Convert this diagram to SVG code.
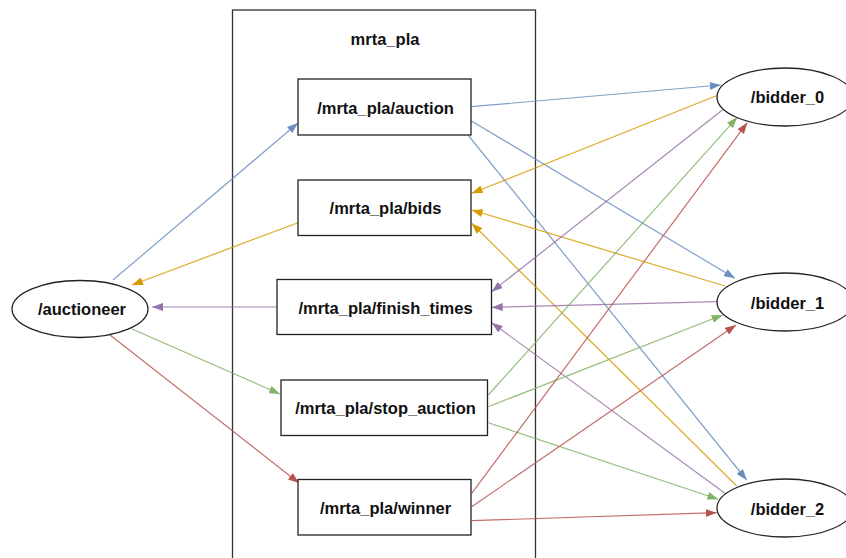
<svg xmlns="http://www.w3.org/2000/svg" width="846" height="558" viewBox="0 0 846 558">
  <style>
    .bg { fill: #ffffff; }
    .cluster { fill: none; stroke: #333333; stroke-width: 1.3; }
    .topic { fill: #ffffff; stroke: #222222; stroke-width: 1.3; }
    .node { fill: #ffffff; stroke: #222222; stroke-width: 1.3; }
    .label { font-family: "Liberation Sans", Arial, sans-serif; font-weight: bold; font-size: 16.5px; fill: #111111; text-anchor: middle; }
    .edge { fill: none; stroke-width: 1.2; stroke-opacity: 0.85; }
    .blue { stroke: #6c8ebf; marker-end: url(#arrow-blue); }
    .yellow { stroke: #d79b00; marker-end: url(#arrow-yellow); }
    .purple { stroke: #9673a6; marker-end: url(#arrow-purple); }
    .green { stroke: #82b366; marker-end: url(#arrow-green); }
    .red { stroke: #b85450; marker-end: url(#arrow-red); }
  </style>
  <defs>
    <marker id="arrow-blue" viewBox="0 0 11 8" refX="11" refY="4" markerWidth="11" markerHeight="8" markerUnits="userSpaceOnUse" orient="auto">
      <path d="M0,0 L11,4 L0,8 z" fill="#6c8ebf"/>
    </marker>
    <marker id="arrow-yellow" viewBox="0 0 11 8" refX="11" refY="4" markerWidth="11" markerHeight="8" markerUnits="userSpaceOnUse" orient="auto">
      <path d="M0,0 L11,4 L0,8 z" fill="#d79b00"/>
    </marker>
    <marker id="arrow-purple" viewBox="0 0 11 8" refX="11" refY="4" markerWidth="11" markerHeight="8" markerUnits="userSpaceOnUse" orient="auto">
      <path d="M0,0 L11,4 L0,8 z" fill="#9673a6"/>
    </marker>
    <marker id="arrow-green" viewBox="0 0 11 8" refX="11" refY="4" markerWidth="11" markerHeight="8" markerUnits="userSpaceOnUse" orient="auto">
      <path d="M0,0 L11,4 L0,8 z" fill="#82b366"/>
    </marker>
    <marker id="arrow-red" viewBox="0 0 11 8" refX="11" refY="4" markerWidth="11" markerHeight="8" markerUnits="userSpaceOnUse" orient="auto">
      <path d="M0,0 L11,4 L0,8 z" fill="#b85450"/>
    </marker>
  </defs>

  <rect class="bg" x="0" y="0" width="846" height="558"/>

  <!-- namespace cluster -->
  <g id="cluster-mrta_pla">
    <rect class="cluster" x="232.5" y="10" width="303" height="570"/>
    <text class="label" x="385" y="45">mrta_pla</text>
  </g>

  <!-- connectors -->
  <g id="edges">
    <path class="edge blue" d="M113,280 L298,123"/>
    <path class="edge yellow" d="M298,222.7 L132,285"/>
    <path class="edge purple" d="M277,307 L152,307"/>
    <path class="edge green" d="M132,329 L280,394"/>
    <path class="edge red" d="M110,335 L299,483"/>

    <path class="edge blue" d="M471,106.7 L720.7,85"/>
    <path class="edge blue" d="M471,120.7 L735,278.3"/>
    <path class="edge blue" d="M468,135 L746.7,480"/>

    <path class="edge yellow" d="M718.3,95 L471.7,193.3"/>
    <path class="edge yellow" d="M725,286 L471.7,210"/>
    <path class="edge yellow" d="M736.7,486 L471.7,223.3"/>

    <path class="edge purple" d="M723.3,109.3 L491.7,291.7"/>
    <path class="edge purple" d="M718.3,301.7 L491.7,307.3"/>
    <path class="edge purple" d="M725,493.3 L491.7,322.7"/>

    <path class="edge green" d="M488.3,395 L737.3,117.3"/>
    <path class="edge green" d="M488.3,406.7 L722.7,315"/>
    <path class="edge green" d="M488.3,422.7 L718.3,499.3"/>

    <path class="edge red" d="M471.7,493.3 L747.3,122.7"/>
    <path class="edge red" d="M471.7,506.7 L736,325"/>
    <path class="edge red" d="M471.7,520.7 L716.7,512.7"/>
  </g>

  <!-- topics -->
  <g id="topic-auction">
    <rect class="topic" x="298" y="79" width="173" height="56"/>
    <text class="label" x="385.5" y="113.5">/mrta_pla/auction</text>
  </g>
  <g id="topic-bids">
    <rect class="topic" x="298" y="180" width="173" height="55.5"/>
    <text class="label" x="385.5" y="214">/mrta_pla/bids</text>
  </g>
  <g id="topic-finish_times">
    <rect class="topic" x="277" y="279.5" width="214.5" height="55"/>
    <text class="label" x="385.5" y="313.5">/mrta_pla/finish_times</text>
  </g>
  <g id="topic-stop_auction">
    <rect class="topic" x="281" y="380" width="206.5" height="55.5"/>
    <text class="label" x="385.5" y="414">/mrta_pla/stop_auction</text>
  </g>
  <g id="topic-winner">
    <rect class="topic" x="298" y="479.5" width="173" height="55.5"/>
    <text class="label" x="385.5" y="513.5">/mrta_pla/winner</text>
  </g>

  <!-- nodes -->
  <g id="node-auctioneer">
    <ellipse class="node" cx="80" cy="309" rx="68" ry="28.5"/>
    <text class="label" x="82" y="315">/auctioneer</text>
  </g>
  <g id="node-bidder_0">
    <ellipse class="node" cx="785" cy="97" rx="68" ry="29"/>
    <text class="label" x="787.5" y="103">/bidder_0</text>
  </g>
  <g id="node-bidder_1">
    <ellipse class="node" cx="785" cy="302" rx="68" ry="29"/>
    <text class="label" x="787.5" y="308.5">/bidder_1</text>
  </g>
  <g id="node-bidder_2">
    <ellipse class="node" cx="785" cy="508" rx="68" ry="29"/>
    <text class="label" x="787.5" y="514.5">/bidder_2</text>
  </g>
</svg>
